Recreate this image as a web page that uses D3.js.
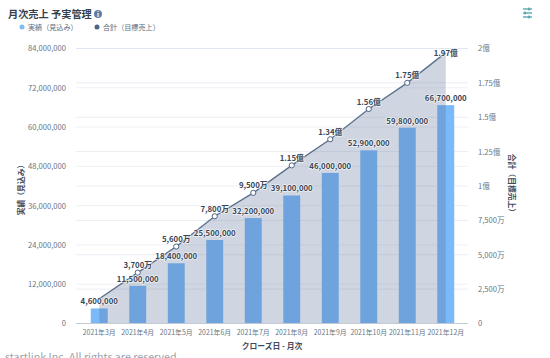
<!DOCTYPE html>
<html>
<head>
<meta charset="utf-8">
<script src="https://cdn.jsdelivr.net/npm/d3@7"></script>
<style>
html, body { margin: 0; padding: 0; background: #fff; overflow: hidden; }
svg { display: block; font-family: "Noto Sans CJK JP", "Noto Sans", sans-serif; }
</style>
</head>
<body>
<div id="chart"></div>
<script>
var months = ["2021年3月", "2021年4月", "2021年5月", "2021年6月", "2021年7月", "2021年8月", "2021年9月", "2021年10月", "2021年11月", "2021年12月"];
var actual = [4600000, 11500000, 18400000, 25500000, 32200000, 39100000, 46000000, 52900000, 59800000, 66700000];
var target = [18000000, 37000000, 56000000, 78000000, 95000000, 115000000, 134000000, 156000000, 175000000, 197000000];
var targetLabels = ["", "3,700万", "5,600万", "7,800万", "9,500万", "1.15億", "1.34億", "1.56億", "1.75億", "1.97億"];
var leftTicks = [0, 12000000, 24000000, 36000000, 48000000, 60000000, 72000000, 84000000];
var rightTicks = [0, 25000000, 50000000, 75000000, 100000000, 125000000, 150000000, 175000000, 200000000];
var rightTickLabels = ["0", "2,500万", "5,000万", "7,500万", "1億", "1.25億", "1.5億", "1.75億", "2億"];

var width = 550;
var height = 358;
var plotTop = 48.5, plotBottom = 323.5, plotLeft = 76, plotRight = 468;

var svg = d3.select("#chart").append("svg")
    .attr("width", width)
    .attr("height", height);

var x = d3.scaleBand().domain(months).range([80, 465]);
var yLeft = d3.scaleLinear().domain([0, 84000000]).range([plotBottom, plotTop]);
var yRight = d3.scaleLinear().domain([0, 200000000]).range([plotBottom, plotTop]);
var center = function(m) { return x(m) + x.bandwidth() / 2; };
var barWidth = x.bandwidth() * 0.44;

// title + legend
svg.append("text").attr("x", 8).attr("y", 18)
    .style("font-size", "10.2px").style("font-weight", "700").style("fill", "#33404f")
    .text("月次売上 予実管理");
svg.append("circle").attr("cx", 98).attr("cy", 14).attr("r", 4).attr("fill", "#5f7fa8");
svg.append("text").attr("x", 98).attr("y", 16.5).attr("text-anchor", "middle")
    .style("font-size", "6.5px").style("font-weight", "700").style("fill", "#fff").text("i");

var legend = [
    { label: "実績（見込み）", color: "#7dbcf5", cx: 22 },
    { label: "合計（目標売上）", color: "#4c6488", cx: 97 }
];
legend.forEach(function(d) {
    svg.append("circle").attr("cx", d.cx).attr("cy", 27).attr("r", 2.5).attr("fill", d.color);
    svg.append("text").attr("x", d.cx + 6).attr("y", 29.5)
        .style("font-size", "7.1px").style("fill", "#5b6b7c").text(d.label);
});

// filter icon, top right
var icon = svg.append("g").attr("stroke", "#3e9aa6").attr("stroke-width", 1.2);
[9, 13, 17].forEach(function(iy, i) {
    icon.append("line").attr("x1", 523).attr("x2", 532).attr("y1", iy).attr("y2", iy);
    var tx = [529, 525, 529][i];
    icon.append("line").attr("x1", tx).attr("x2", tx).attr("y1", iy - 1.5).attr("y2", iy + 1.5);
});

// grid lines for both axes
svg.append("g").selectAll("line").data(leftTicks.slice(1)).enter().append("line")
    .attr("x1", plotLeft).attr("x2", plotRight)
    .attr("y1", d => yLeft(d)).attr("y2", d => yLeft(d))
    .attr("stroke", "#eef1f5");
svg.append("g").selectAll("line").data(rightTicks.slice(1)).enter().append("line")
    .attr("x1", plotLeft).attr("x2", plotRight)
    .attr("y1", d => yRight(d)).attr("y2", d => yRight(d))
    .attr("stroke", d => d === 200000000 ? "#dfe6ef" : "#e9edf2");

// bars
svg.append("g").selectAll("rect").data(months).enter().append("rect")
    .attr("x", d => center(d) - barWidth / 2)
    .attr("width", barWidth)
    .attr("y", (d, i) => yLeft(actual[i]))
    .attr("height", (d, i) => plotBottom - yLeft(actual[i]))
    .attr("fill", "#7abafa");

// area sits on top of the bars
var area = d3.area()
    .x((d, i) => center(months[i]))
    .y0(plotBottom)
    .y1(d => yRight(d));
svg.append("path").datum(target)
    .attr("d", area)
    .attr("fill", "#516790")
    .attr("fill-opacity", 0.27);

var line = d3.line()
    .x((d, i) => center(months[i]))
    .y(d => yRight(d));
svg.append("path").datum(target)
    .attr("d", line)
    .attr("fill", "none")
    .attr("stroke", "#5a6f8c")
    .attr("stroke-width", 1.3);

svg.append("g").selectAll("circle").data(target.slice(1, 9)).enter().append("circle")
    .attr("cx", (d, i) => center(months[i + 1]))
    .attr("cy", d => yRight(d))
    .attr("r", 2.6)
    .attr("fill", "#fff")
    .attr("stroke", "#4c6488")
    .attr("stroke-width", 1);

// baseline
svg.append("line").attr("x1", plotLeft).attr("x2", plotRight)
    .attr("y1", plotBottom).attr("y2", plotBottom)
    .attr("stroke", "#c3cad3");

// value labels
function valueLabels(cls, labels, ys) {
    svg.append("g").selectAll("text." + cls).data(labels).enter().append("text")
        .attr("class", cls)
        .attr("x", (d, i) => center(months[i]))
        .attr("y", (d, i) => ys(i))
        .attr("text-anchor", "middle")
        .style("font-size", "7.8px")
        .style("font-weight", "700")
        .style("fill", "#3b4757")
        .style("paint-order", "stroke")
        .style("stroke", "#fff")
        .style("stroke-width", "1.5px")
        .style("stroke-opacity", 0.7)
        .text(d => d);
}
valueLabels("actual", actual.map(d3.format(",")), i => yLeft(actual[i]) - 4);
// the top label gets pushed down so it stays under the 2億 grid line
valueLabels("target", targetLabels, i => Math.max(yRight(target[i]) - 4.5, 56));

// axes
var axisLeft = d3.axisLeft(yLeft).tickValues(leftTicks).tickFormat(d3.format(",")).tickSize(0).tickPadding(10);
var axisRight = d3.axisRight(yRight).tickValues(rightTicks).tickFormat((d, i) => rightTickLabels[i]).tickSize(0).tickPadding(10);
var axisBottom = d3.axisBottom(x).tickSize(0).tickPadding(7);

function styleAxis(g, size) {
    g.select(".domain").remove();
    g.selectAll("text")
        .style("font-family", '"Noto Sans CJK JP", "Noto Sans", sans-serif')
        .style("font-size", size)
        .style("fill", "#667586");
}
svg.append("g").attr("transform", "translate(" + plotLeft + ",0)").call(axisLeft).call(styleAxis, "7.6px");
svg.append("g").attr("transform", "translate(" + plotRight + ",0)").call(axisRight).call(styleAxis, "7.6px");
svg.append("g").attr("transform", "translate(0," + plotBottom + ")").call(axisBottom).call(styleAxis, "6.9px");

// axis titles
function axisTitle(tx, ty, rotate, label) {
    svg.append("text")
        .attr("transform", "translate(" + tx + "," + ty + ") rotate(" + rotate + ")")
        .attr("text-anchor", "middle")
        .style("font-size", "7.8px")
        .style("font-weight", "700")
        .style("fill", "#3f4b5b")
        .text(label);
}
axisTitle(24, 188, -90, "実績（見込み）");
axisTitle(509, 185, 90, "合計（目標売上）");
axisTitle(272, 348.5, 0, "クローズ日 - 月次");

// footer, cut by the bottom edge of the window
svg.append("text").attr("x", 5).attr("y", 361)
    .style("font-size", "10.7px").style("fill", "#9aa3ad")
    .text("startlink Inc. All rights are reserved");
</script>
</body>
</html>
